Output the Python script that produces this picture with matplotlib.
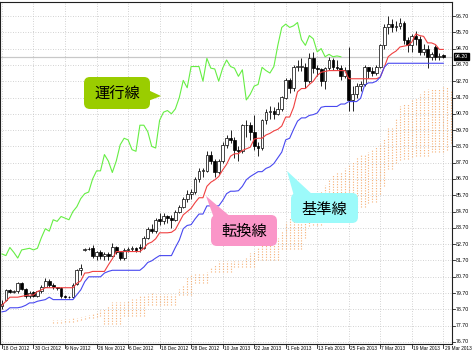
import numpy as np
import matplotlib.pyplot as plt
from matplotlib.patches import FancyBboxPatch, Polygon
import matplotlib.transforms as mtransforms

# ---- data (USDJPY daily) ----
date_labels = ["18 Oct 2012", "30 Oct 2012", "9 Nov 2012", "26 Nov 2012", "6 Dec 2012",
               "18 Dec 2012", "28 Dec 2012", "10 Jan 2013", "22 Jan 2013", "1 Feb 2013",
               "13 Feb 2013", "25 Feb 2013", "7 Mar 2013", "19 Mar 2013", "29 Mar 2013"]
date_bars = [0, 8, 16, 24, 32, 40, 48, 56, 64, 72, 80, 88, 96, 104, 112]
price_levels = [76.70, 77.70, 78.70, 79.70, 80.70, 81.70, 82.70, 83.70, 84.70, 85.70, 86.70,
                87.70, 88.70, 89.70, 90.70, 91.70, 92.70, 93.70, 94.70, 95.70, 96.70]
last_price = 94.20

opens = [78.90, 79.25, 79.88, 79.78, 79.80, 80.30, 79.95, 79.50, 79.75, 79.50,
         79.80, 80.10, 80.45, 80.20, 80.05, 80.00, 79.50, 79.48, 79.45, 80.25,
         81.10, 82.35, 82.40, 82.45, 81.95, 82.20, 82.00, 82.10, 82.00, 82.50,
         82.20, 81.85, 82.35, 82.40, 82.45, 82.50, 82.45, 83.10, 83.65, 83.50,
         84.25, 84.10, 84.40, 84.30, 84.20, 84.70, 85.00, 85.50, 85.80, 85.90,
         86.70, 87.20, 87.20, 88.20, 87.80, 87.10, 87.80, 88.80, 89.20, 89.10,
         88.50, 88.40, 90.00, 90.00, 89.60, 88.70, 88.60, 90.30, 90.80, 90.90,
         90.70, 91.00, 91.70, 92.75, 92.30, 93.60, 93.60, 93.60, 92.70, 94.10,
         93.50, 93.45, 92.70, 93.50, 94.00, 93.60, 93.50, 93.00, 93.40, 91.55,
         91.90, 92.40, 92.50, 93.55, 93.35, 93.20, 93.60, 94.90, 96.00, 96.20,
         96.00, 96.10, 96.30, 95.25, 94.90, 95.50, 95.30, 94.50, 94.70, 94.20,
         94.80, 94.20, 94.28]
highs = [79.30, 79.95, 79.98, 79.90, 80.40, 80.40, 80.00, 79.80, 79.85, 79.85,
         80.20, 80.65, 80.55, 80.35, 80.10, 80.05, 79.60, 79.55, 80.30, 81.20,
         81.50, 82.45, 82.50, 82.65, 82.30, 82.35, 82.20, 82.20, 82.80, 82.60,
         82.25, 82.45, 82.55, 82.60, 82.55, 82.70, 83.20, 83.75, 83.95, 84.30,
         84.60, 84.60, 84.50, 84.50, 84.80, 85.10, 85.60, 86.00, 86.10, 86.80,
         87.40, 87.40, 88.40, 88.40, 87.90, 87.90, 89.00, 89.40, 89.70, 89.30,
         88.70, 90.10, 90.30, 90.20, 90.60, 89.00, 90.40, 91.00, 91.20, 91.10,
         91.40, 91.80, 92.90, 92.90, 93.70, 94.00, 94.10, 93.80, 94.40, 94.50,
         93.70, 93.50, 93.60, 94.20, 94.10, 94.00, 93.70, 93.60, 94.80, 92.40,
         92.60, 92.70, 93.70, 93.60, 93.60, 93.70, 95.00, 96.20, 96.70, 96.50,
         96.40, 96.60, 96.40, 95.40, 95.60, 95.80, 95.50, 95.00, 94.90, 94.50,
         94.90, 94.45, 94.35]
lows = [78.75, 79.20, 79.70, 79.70, 79.70, 79.90, 79.40, 79.40, 79.45, 79.45,
        79.70, 80.05, 80.10, 79.95, 79.90, 79.40, 79.40, 79.40, 79.40, 80.20,
        80.80, 82.30, 82.35, 81.85, 81.75, 81.80, 81.70, 81.75, 81.95, 82.10,
        81.70, 81.75, 82.20, 82.30, 82.20, 82.25, 82.40, 83.00, 83.40, 83.40,
        83.90, 83.95, 84.00, 83.70, 84.10, 84.60, 84.90, 85.30, 85.50, 85.80,
        86.50, 86.80, 87.10, 87.60, 86.80, 87.00, 87.70, 88.60, 88.90, 88.00,
        87.80, 88.30, 89.30, 89.10, 88.50, 88.10, 88.50, 90.10, 90.40, 90.40,
        90.60, 90.90, 91.60, 92.00, 92.10, 93.30, 93.30, 92.30, 92.60, 93.20,
        93.00, 92.40, 92.20, 93.40, 93.40, 93.40, 92.80, 92.90, 90.90, 90.90,
        91.70, 92.10, 92.40, 92.90, 93.00, 93.10, 93.50, 94.70, 95.60, 95.70,
        95.80, 95.90, 95.00, 94.50, 94.50, 94.90, 94.30, 94.30, 93.50, 94.00,
        94.00, 94.00, 94.10]
closes = [79.05, 79.88, 79.78, 79.80, 80.30, 79.95, 79.50, 79.70, 79.50, 79.80,
          80.10, 80.45, 80.20, 80.05, 80.00, 79.50, 79.48, 79.45, 80.20, 81.10,
          81.25, 82.40, 82.42, 81.95, 82.20, 82.00, 82.10, 82.00, 82.50, 82.20,
          81.85, 82.35, 82.40, 82.45, 82.35, 82.45, 83.10, 83.65, 83.50, 84.20,
          84.10, 84.40, 84.30, 84.20, 84.70, 85.00, 85.50, 85.80, 85.90, 86.70,
          87.20, 87.20, 88.20, 87.80, 87.10, 87.80, 88.80, 89.20, 89.10, 88.50,
          88.40, 90.00, 90.00, 89.60, 88.70, 88.60, 90.30, 90.80, 90.90, 90.70,
          91.00, 91.70, 92.75, 92.30, 93.60, 93.60, 93.60, 92.70, 94.10, 93.50,
          93.45, 92.70, 93.50, 94.00, 93.60, 93.50, 93.00, 93.40, 91.55, 91.90,
          92.40, 92.50, 93.55, 93.35, 93.20, 93.60, 94.90, 96.00, 96.20, 96.00,
          96.10, 96.30, 95.25, 94.90, 95.50, 95.30, 94.50, 94.70, 94.20, 94.35,
          94.20, 94.25, 94.20]

# conversion line (red)
tenkan = [78.95, 79.20, 79.45, 79.45, 79.45, 79.50, 79.55, 79.58, 79.58, 79.80,
          79.90, 80.03, 80.03, 80.03, 80.03, 80.03, 80.03, 80.03, 80.03, 80.30,
          80.45, 80.93, 80.95, 81.03, 81.03, 81.03, 81.03, 81.43, 81.80, 82.25,
          82.25, 82.25, 82.25, 82.25, 82.25, 82.25, 82.45, 82.73, 82.83, 83.03,
          83.40, 83.40, 83.40, 83.43, 83.60, 84.05, 84.50, 84.70, 84.90, 85.25,
          85.55, 85.55, 86.25, 86.50, 86.65, 86.85, 87.25, 87.60, 88.10, 88.25,
          88.25, 88.45, 88.55, 88.65, 89.15, 89.20, 89.20, 89.40, 89.50, 89.65,
          89.75, 89.95, 90.50, 90.50, 91.10, 92.05, 92.25, 92.25, 92.50, 92.70,
          93.05, 93.25, 93.30, 93.35, 93.35, 93.35, 93.35, 93.35, 92.85, 92.85,
          92.85, 92.85, 92.85, 92.85, 92.85, 92.85, 92.95, 93.55, 94.20, 94.40,
          94.55, 94.80, 94.85, 94.90, 95.10, 95.60, 95.50, 95.45, 95.05, 95.05,
          94.95, 94.65, 94.65]
# base line (blue)
kijun = [78.55, 78.60, 78.80, 78.80, 78.80, 78.85, 78.95, 79.10, 79.10, 79.20,
         79.25, 79.30, 79.45, 79.30, 79.30, 79.30, 79.30, 79.30, 79.30, 79.60,
         79.90, 80.40, 80.70, 80.70, 80.70, 80.70, 80.93, 81.03, 81.10, 81.10,
         81.10, 81.10, 81.10, 81.10, 81.10, 81.10, 81.30, 81.58, 81.68, 81.85,
         82.00, 82.00, 82.00, 82.00, 82.50, 82.95, 83.65, 83.85, 83.90, 84.25,
         84.55, 84.55, 85.05, 85.05, 85.05, 85.05, 85.38, 85.80, 85.95, 85.95,
         85.98, 86.25, 86.65, 86.85, 87.00, 87.15, 87.15, 87.35, 87.45, 87.65,
         88.00, 88.35, 89.10, 89.20, 89.75, 90.25, 90.45, 90.45, 90.60, 90.65,
         90.75, 91.10, 91.15, 91.15, 91.15, 91.15, 91.30, 91.30, 91.45, 91.45,
         91.45, 91.65, 92.45, 92.60, 92.60, 92.70, 92.95, 93.55, 93.80, 93.80,
         93.80, 93.80, 93.80, 93.80, 93.80, 93.80, 93.80, 93.80, 93.80, 93.80,
         93.80, 93.80, 93.80]
# leading spans, already shifted 26 bars ahead; first one sits on bar 13
span_start = 13
span_a = [78.05, 78.05, 78.05, 78.10, 78.10, 78.15, 78.20, 78.25, 78.30, 78.35,
          78.45, 78.55, 78.65, 78.75, 78.90, 79.13, 79.13,
          79.13, 79.18, 79.25, 79.35, 79.34, 79.50, 79.58, 79.66, 79.74, 79.66,
          79.66, 79.66, 79.66, 79.66, 79.66, 79.95, 80.18, 80.66, 80.83, 80.86,
          80.86, 80.86, 80.98, 81.23, 81.45, 81.68, 81.68, 81.68, 81.68, 81.68,
          81.68, 81.68, 81.88, 82.15, 82.25, 82.44, 82.70, 82.70, 82.70, 82.71,
          83.05, 83.50, 84.08, 84.28, 84.40, 84.75, 85.05, 85.05, 85.65, 85.78,
          85.85, 85.95, 86.32, 86.70, 87.03, 87.10, 87.12, 87.35, 87.60, 87.75,
          88.08, 88.18, 88.18, 88.38, 88.48, 88.65, 88.88, 89.15, 89.80, 89.85,
          90.43, 91.15, 91.35, 91.35, 91.55, 91.68, 91.90, 92.18, 92.23, 92.25,
          92.25, 92.25, 92.33, 92.33, 92.15]
span_b = [77.85, 77.85, 77.85, 77.90, 77.90, 77.95, 78.00, 78.05, 78.10, 78.15,
          78.20, 78.25, 78.30, 77.80, 77.80, 77.80, 77.80,
          77.80, 78.30, 78.30, 78.30, 78.30, 78.30, 78.30, 79.00, 79.00, 79.00,
          79.00, 79.00, 79.00, 79.00, 79.00, 79.60, 79.60, 79.60, 79.60, 80.30,
          80.30, 80.30, 80.30, 81.00, 81.00, 81.00, 81.00, 81.00, 81.00, 81.30,
          81.30, 81.30, 81.30, 81.30, 81.30, 81.70, 81.70, 81.70, 81.70, 81.70,
          81.70, 82.40, 82.40, 82.40, 82.40, 82.40, 82.40, 83.08, 83.80, 83.90,
          83.90, 83.90, 84.20, 84.40, 84.55, 84.55, 84.55, 84.75, 84.85, 84.85,
          85.00, 85.00, 85.00, 85.20, 85.30, 85.30, 85.80, 86.30, 87.30, 87.30,
          87.70, 87.85, 87.90, 87.90, 88.05, 88.10, 88.10, 88.10, 88.13, 88.35,
          88.35, 88.35, 88.38, 88.45, 88.90]

lag = 26

small_font = ['Liberation Sans Narrow', 'Liberation Sans', 'DejaVu Sans']
cjk_font = ['Noto Sans CJK JP', 'DejaVu Sans']

W, H = 473, 355
fig = plt.figure(figsize=(W / 100, H / 100), dpi=100)
fig.patch.set_facecolor('white')

# plot area: x 0..452 px, y 2..344 px
ax = fig.add_axes([0, 11 / H, 452 / W, 342 / H])
px_per_unit = 16.3
ax.set_ylim(96.70 - (344 - 16) / px_per_unit, 96.70 + 14 / px_per_unit)
ax.set_xlim(-0.5, 114.2)
ax.set_xticks([])
ax.set_yticks([])
for sp in ax.spines.values():
    sp.set_color('#202020')
    sp.set_linewidth(0.8)

# grid
for p in price_levels:
    ax.axhline(p, color='#c4c4c4', lw=0.6, ls=(0, (1, 2)), zorder=0)
for b in date_bars:
    ax.axvline(b, color='#c4c4c4', lw=0.6, ls=(0, (1, 2)), zorder=0)

# cloud drawn as dotted vertical hatching
t = np.arange(span_start, span_start + len(span_a))
ax.vlines(t, span_b, span_a, colors='#f4a460', linestyles=(0, (1, 1.4)),
          lw=0.8, alpha=0.85, zorder=1)

# bid line
ax.axhline(last_price, color='#c8c8c8', lw=0.9, zorder=1)

# candles
o = np.array(opens)
hi = np.array(highs)
lo = np.array(lows)
c = np.array(closes)
idx = np.arange(len(c))
up = c >= o
body_lo = np.minimum(o, c)
body_h = np.maximum(np.abs(c - o), 0.03)
ax.vlines(idx, lo, hi, color='black', lw=0.6, zorder=3)
ax.bar(idx[up], body_h[up], bottom=body_lo[up], width=0.7, color='white',
       edgecolor='black', lw=0.5, zorder=4)
ax.bar(idx[~up], body_h[~up], bottom=body_lo[~up], width=0.7, color='black',
       edgecolor='black', lw=0.5, zorder=4)

# ichimoku lines
ax.plot(idx, tenkan, color='#f04040', lw=0.8, zorder=5)
ax.plot(idx, kijun, color='#4848f0', lw=0.8, zorder=5)
ax.plot(np.arange(len(c) - lag), c[lag:], color='#66ee44', lw=0.8, zorder=5)

# price axis labels
ytr = mtransforms.blended_transform_factory(ax.transAxes, ax.transData)
for p in price_levels:
    ax.plot([1.0, 1.0 + 3 / 452], [p, p], color='#202020', lw=0.6,
            transform=ytr, clip_on=False)
    ax.text(1.0 + 4 / 452, p, f"{p:.2f}", transform=ytr, fontsize=3.8,
            va='center', ha='left', color='black', family=small_font)
ax.text(1.0 + 3 / 452, last_price, f"{last_price:.2f}", transform=ytr, fontsize=3.8,
        va='center', ha='left', color='white', zorder=6, family=small_font,
        bbox=dict(boxstyle='square,pad=0.15', fc='black', ec='black'))

# date labels
xtr = mtransforms.blended_transform_factory(ax.transData, ax.transAxes)
for b, lab in zip(date_bars, date_labels):
    ax.plot([b, b], [0, -4 / 342], color='#202020', lw=0.6, transform=xtr, clip_on=False)
    ax.text(b + 0.3, -5 / 342, lab, transform=xtr, fontsize=3.4, va='center',
            ha='left', color='black', family=small_font)

# call-out labels (figure pixel coordinates)
ov = fig.add_axes([0, 0, 1, 1], zorder=10)
ov.set_xlim(0, W)
ov.set_ylim(H, 0)
ov.axis('off')
ov.patch.set_alpha(0)

callouts = [
    ("運行線", '#9acd00', (84, 77, 66, 32), [(148, 90), (161, 96), (148, 101)]),
    ("転換線", '#fa96c8', (211, 215, 66, 31), [(214, 218), (206, 196), (232, 218)]),
    ("基準線", '#9cfafa', (291, 193, 67, 30), [(294, 196), (287, 171), (314, 196)]),
]
for txt, col, (x0, y0, w, h), tail in callouts:
    ov.add_patch(Polygon(tail, closed=True, fc=col, ec='none'))
    ov.add_patch(FancyBboxPatch((x0, y0), w, h, boxstyle='round,pad=0,rounding_size=6',
                                fc=col, ec='none'))
    ov.text(x0 + w / 2, y0 + h / 2 + 1, txt, fontsize=11, ha='center', va='center',
            family=cjk_font, color='black')

fig.savefig('out.png', dpi=100)
